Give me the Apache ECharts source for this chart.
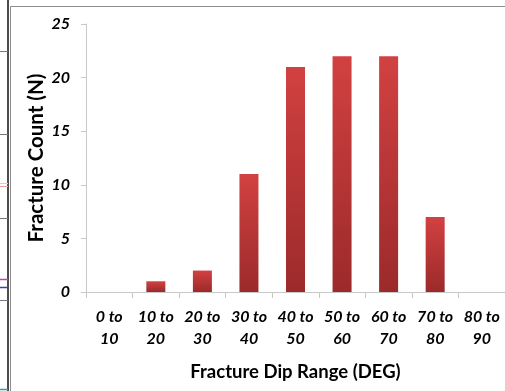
<!DOCTYPE html>
<html>
<head>
<meta charset="utf-8">
<script src="https://cdn.jsdelivr.net/npm/echarts@6/dist/echarts.min.js"></script>
<style>
  html, body { margin: 0; padding: 0; background: #fff; }
  #chart { width: 505px; height: 391px; }
</style>
</head>
<body>
<div id="chart"></div>
<script>
// Dip-range bins and the number of fractures in each
const dipRanges = ['0 to\n10', '10 to\n20', '20 to\n30', '30 to\n40', '40 to\n50', '50 to\n60', '60 to\n70', '70 to\n80', '80 to\n90'];
const fractureCounts = [0, 1, 2, 11, 21, 22, 22, 7, 0];
const countTicks = [0, 5, 10, 15, 20, 25];

const chart = echarts.init(document.getElementById('chart'));

const labelFont = { fontFamily: 'Lato, "Open Sans", sans-serif', fontWeight: 'bold', fontStyle: 'italic', color: '#000' };

chart.setOption({
  animation: false,
  backgroundColor: '#fff',
  graphic: [
    // panel frame
    { type: 'rect', shape: { x: 10.5, y: 6.5, width: 520, height: 400 }, style: { fill: 'none', stroke: '#8c8c8c', lineWidth: 1 }, silent: true },
    // neighbouring panel edge on the left
    { type: 'line', shape: { x1: 8, y1: 0, x2: 8, y2: 391 }, style: { stroke: '#111', lineWidth: 1.5 }, silent: true },
    { type: 'line', shape: { x1: 0, y1: 51.5, x2: 8, y2: 51.5 }, style: { stroke: '#777', lineWidth: 1 }, silent: true },
    { type: 'line', shape: { x1: 0, y1: 134.5, x2: 8, y2: 134.5 }, style: { stroke: '#777', lineWidth: 1 }, silent: true },
    { type: 'line', shape: { x1: 0, y1: 218.5, x2: 8, y2: 218.5 }, style: { stroke: '#777', lineWidth: 1 }, silent: true },
    { type: 'line', shape: { x1: 0, y1: 300.5, x2: 8, y2: 300.5 }, style: { stroke: '#777', lineWidth: 1 }, silent: true },
    { type: 'line', shape: { x1: 0, y1: 183.5, x2: 8, y2: 183.5 }, style: { stroke: '#d8d890', lineWidth: 1 }, silent: true },
    { type: 'line', shape: { x1: 0, y1: 186.5, x2: 8, y2: 186.5 }, style: { stroke: '#e8a0a0', lineWidth: 1 }, silent: true },
    { type: 'line', shape: { x1: 0, y1: 279.5, x2: 8, y2: 279.5 }, style: { stroke: '#c040c0', lineWidth: 1.5 }, silent: true },
    { type: 'line', shape: { x1: 0, y1: 287.5, x2: 8, y2: 287.5 }, style: { stroke: '#3040c0', lineWidth: 1.5 }, silent: true },
    { type: 'line', shape: { x1: 0, y1: 389.5, x2: 8, y2: 389.5 }, style: { stroke: '#30a0a0', lineWidth: 1.5 }, silent: true }
  ],
  grid: { left: 86, right: -5, top: 24, bottom: 99, containLabel: false },
  xAxis: {
    type: 'category',
    data: dipRanges,
    name: 'Fracture Dip Range (DEG)',
    nameLocation: 'middle',
    nameGap: 71,
    nameMoveOverlap: false,
    nameTextStyle: { fontFamily: 'Lato, "Open Sans", sans-serif', fontWeight: 'bold', fontSize: 18.5, color: '#000' },
    axisLine: { lineStyle: { color: '#c8c8c8', width: 1 } },
    axisTick: { show: true, alignWithLabel: false, length: 6, lineStyle: { color: '#c8c8c8' } },
    axisLabel: Object.assign({ fontSize: 16, lineHeight: 22, margin: 14, interval: 0 }, labelFont),
    splitLine: { show: false }
  },
  yAxis: {
    type: 'value',
    min: countTicks[0],
    max: countTicks[countTicks.length - 1],
    interval: countTicks[1] - countTicks[0],
    name: 'Fracture Count (N)',
    nameLocation: 'middle',
    nameGap: 39,
    nameMoveOverlap: false,
    nameRotate: 90,
    nameTextStyle: { fontFamily: 'Lato, "Open Sans", sans-serif', fontWeight: 'bold', fontSize: 20.5, color: '#000' },
    axisLine: { show: true, lineStyle: { color: '#c8c8c8', width: 1 } },
    axisTick: { show: true, length: 5, lineStyle: { color: '#c8c8c8' } },
    axisLabel: Object.assign({ fontSize: 16, margin: 16 }, labelFont),
    splitLine: { show: false }
  },
  series: [{
    type: 'bar',
    data: fractureCounts,
    barWidth: 19,
    itemStyle: {
      color: new echarts.graphic.LinearGradient(0, 0, 0, 1, [
        { offset: 0, color: '#d24141' },
        { offset: 1, color: '#9c2a2a' }
      ])
    }
  }]
});
</script>
</body>
</html>
